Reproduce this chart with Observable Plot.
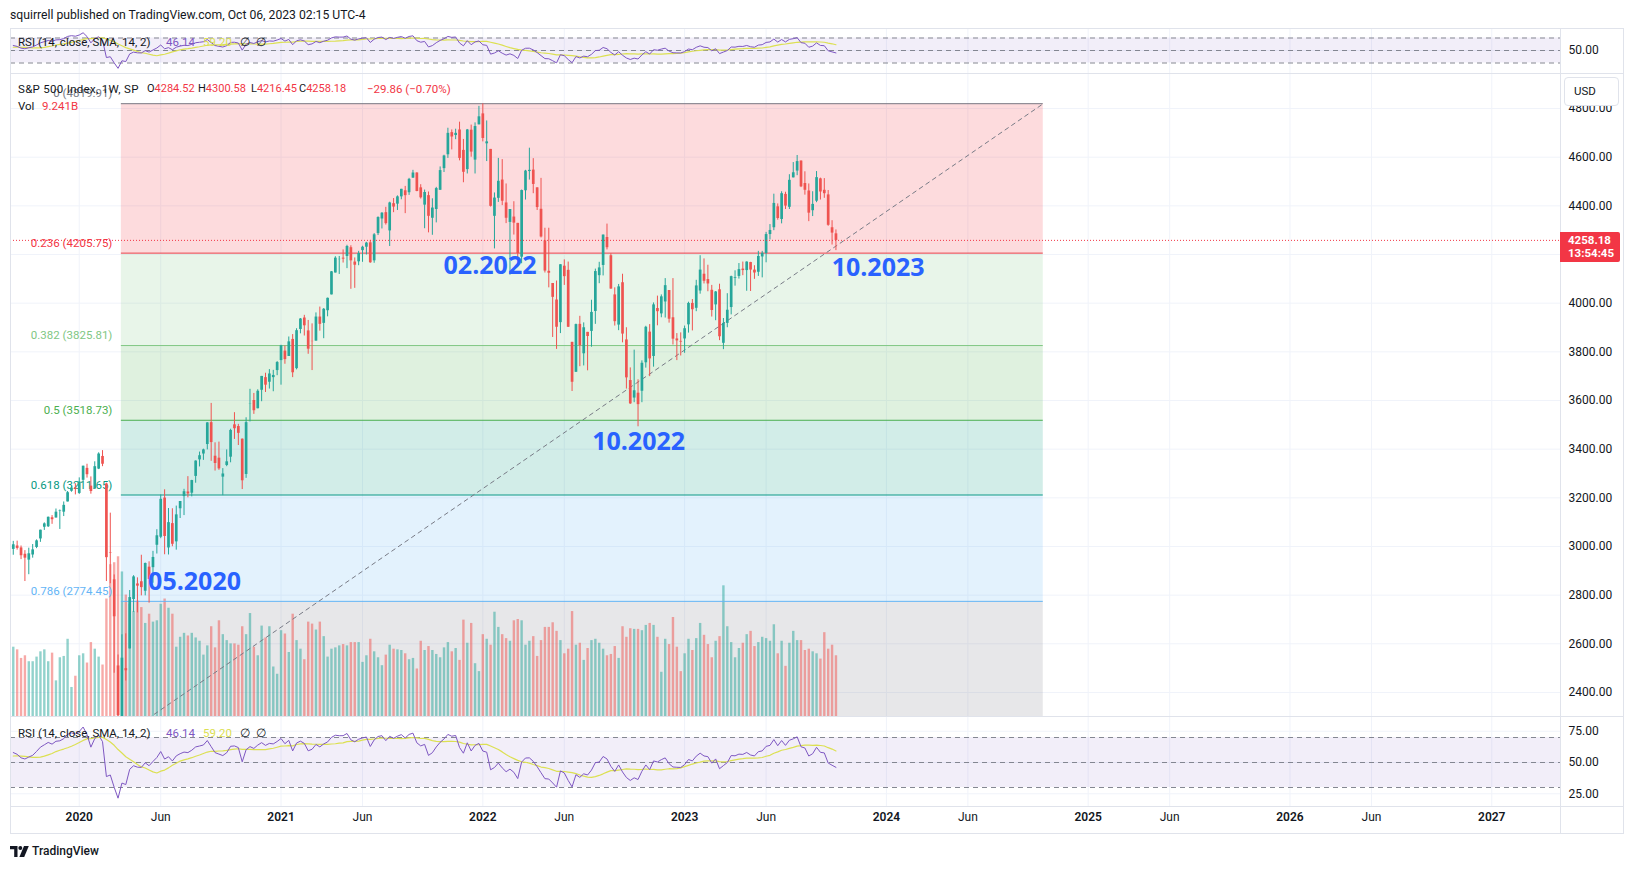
<!DOCTYPE html>
<html><head><meta charset="utf-8"><title>S&P 500 Index 1W</title>
<script src="https://cdn.jsdelivr.net/npm/d3@7"></script>
<script src="https://cdn.jsdelivr.net/npm/@observablehq/plot@0.6"></script>
<style>
html,body{margin:0;padding:0;background:#fff;}
#root{position:relative;width:1634px;height:869px;overflow:hidden;background:#fff;font-family:Roboto,"Open Sans",sans-serif;color:#131722;}
#root svg.plotlayer{position:absolute;left:0;}
.t{position:absolute;white-space:nowrap;font-size:12px;line-height:14px;height:14px;}
.hl{position:absolute;height:1px;background:#e0e3eb;}
.vl{position:absolute;width:1px;background:#e0e3eb;}
</style></head><body><div id="root"></div>
<script>
// ---------- DATA (weekly S&P 500) ----------
const firstWeek = "2019-09-09";
const lastWeekEnd = "2023-10-03";
const warmupCloses = [2886,2767,2768,2659,2723,2781,2736,2633,2760,2633,2600,2417,2486,
  2532,2596,2671,2665,2707,2708,2776,2793,2804,2743,2822,2801,2834,2893,2907,2905,2940,2946,2881,2860,2826,2752,2873,2887,2950,2942,2990,3014,2977,3026,2932,2919,2889,2847,2926,2979];
const opens = [2988,3002,2994,2968,2944,2965,2996,3031,3079,3081,3118,3117,3144,3141,3183,3227,3240,
  3218,3272,3321,3248,3236,3318,3370,
  3257,2974,2863,2509,2291,2498,
  2579,2782,2846,2855,2816,2915,2913,3005,3038,3199,2994,3094,3019,
  3155,3205,3224,3219,3288,3356,3380,3419,3509,
  3371,3363,3285,3333,3367,3500,3493,3441,3296,
  3584,3600,3566,3642,3694,3675,3694,3723,
  3764,3803,3781,3851,3731,3892,3939,3886,3843,3844,3943,3917,3969,
  4034,4124,4179,4185,4192,4228,4169,4170,4216,4230,4248,4174,4286,
  4346,4372,4297,4409,4407,4437,4462,4454,4514,4535,4474,4403,4442,
  4349,4385,4464,4553,4610,4701,4689,4712,4628,4549,4711,4588,4733,
  4778,4655,4632,4357,4431,4506,4412,4332,4354,4328,4189,4462,4541,
  4547,4474,4386,4256,4131,4081,4013,3920,4152,4135,3839,3716,3913,
  3792,3880,3884,3966,4113,4155,4270,4195,4034,3910,4084,3849,3682,
  3610,3630,3638,3755,3881,3781,3978,3956,4005,4052,3940,3853,3843,
  3853,3911,3999,3979,4050,4119,4097,4053,3993,4055,3835,3917,3982,
  4102,4110,4140,4134,4167,4136,4127,4190,4204,4282,4310,4396,4344,
  4447,4394,4515,4543,4584,4492,4461,4380,4419,4511,4464,4445,4310,4285];
const highs = [3021,3022,3002,2983,2993,3008,3027,3067,3097,3121,3127,3154,3150,3183,3226,3248,3258,
  3282,3330,3338,3286,3348,3385,3394,
  3260,3137,2883,2554,2637,2641,
  2819,2880,2871,2964,2932,2937,2980,3069,3212,3233,3156,3155,3166,
  3185,3235,3287,3272,3352,3388,3400,3509,3588,
  3426,3429,3320,3397,3482,3550,3502,3442,3529,
  3646,3629,3644,3699,3712,3727,3724,3760,
  3827,3824,3861,3871,3895,3937,3950,3929,3915,3960,3984,3978,4021,
  4130,4191,4192,4219,4238,4236,4186,4213,4234,4250,4258,4286,4355,
  4372,4394,4415,4430,4441,4468,4480,4513,4546,4536,4487,4465,4457,
  4429,4476,4560,4608,4719,4712,4715,4744,4673,4714,4732,4741,4809,
  4819,4749,4632,4453,4595,4590,4490,4385,4417,4328,4465,4546,4637,
  4594,4474,4513,4308,4308,4081,4091,4158,4178,4169,3839,3914,3946,
  3919,3880,4012,4140,4168,4280,4325,4203,4063,4077,4119,3899,3734,
  3807,3685,3763,3905,3912,4001,4029,4034,4101,4052,4101,3875,3878,
  3906,4004,4015,4094,4195,4182,4156,4073,4048,4078,3937,4039,4111,
  4133,4163,4169,4170,4168,4154,4213,4213,4291,4323,4448,4408,4458,
  4456,4528,4578,4607,4585,4540,4490,4458,4541,4514,4512,4463,4339,4301];
const lows = [2964,2985,2946,2856,2884,2952,2991,3017,3066,3078,3091,3117,3070,3123,3183,3223,3212,
  3214,3264,3281,3215,3236,3316,3328,
  2856,2847,2479,2281,2192,2447,
  2579,2729,2727,2797,2797,2767,2849,2969,3032,2966,2965,2999,2985,
  3115,3127,3200,3204,3260,3327,3354,3397,3350,
  3310,3313,3209,3328,3344,3440,3415,3234,3280,
  3512,3543,3566,3595,3633,3647,3636,3702,
  3663,3749,3781,3694,3726,3874,3865,3790,3723,3844,3885,3854,3944,
  4034,4124,4118,4165,4142,4057,4061,4154,4168,4198,4164,4164,4278,
  4305,4321,4233,4372,4381,4425,4368,4443,4513,4458,4428,4306,4289,
  4279,4330,4464,4537,4595,4630,4672,4585,4495,4531,4600,4531,4733,
  4663,4582,4395,4223,4414,4401,4327,4115,4280,4158,4162,4424,4506,
  4450,4381,4268,4124,4063,3859,3810,3875,4073,3900,3637,3715,3739,
  3742,3722,3819,3913,4080,4112,4219,4057,3906,3887,3837,3647,3584,
  3591,3492,3591,3733,3698,3737,3907,3940,3939,3918,3828,3764,3783,
  3794,3877,3886,3965,4037,4079,4047,3943,3928,3846,3809,3899,3952,
  4070,4099,4113,4049,4048,4098,4110,4104,4166,4260,4298,4341,4326,
  4385,4385,4515,4524,4475,4444,4335,4356,4413,4424,4431,4316,4239,4216];
const closes = [3007,2992,2962,2952,2970,2986,3023,3067,3093,3120,3110,3141,3146,3169,3221,3240,3235,
  3265,3330,3295,3226,3328,3380,3338,
  2954,2972,2711,2305,2541,2489,
  2790,2875,2837,2831,2930,2864,2955,3044,3194,3041,3098,3009,3130,
  3185,3225,3216,3271,3351,3373,3397,3508,3427,
  3341,3319,3298,3348,3477,3484,3465,3270,3509,
  3585,3558,3638,3699,3663,3709,3703,3756,
  3825,3768,3841,3714,3887,3935,3907,3811,3842,3943,3913,3975,4020,
  4129,4185,4180,4181,4233,4174,4156,4204,4230,4247,4166,4281,4352,
  4370,4327,4412,4395,4437,4468,4442,4509,4535,4459,4433,4455,4357,
  4391,4471,4545,4605,4698,4683,4698,4595,4538,4712,4621,4726,4766,
  4677,4663,4398,4432,4501,4419,4349,4385,4329,4204,4463,4543,4546,
  4488,4393,4272,4132,4123,4024,3901,4158,4109,3901,3675,3912,3825,
  3899,3863,3962,4130,4145,4280,4228,4058,3924,4067,3873,3693,3586,
  3640,3583,3753,3901,3771,3993,3965,4026,4072,3934,3852,3845,3840,
  3895,3999,3973,4071,4136,4090,4079,3970,4046,3862,3917,3971,4109,
  4105,4138,4134,4169,4136,4124,4192,4205,4282,4299,4410,4348,4450,
  4399,4505,4536,4582,4478,4464,4370,4406,4516,4457,4450,4320,4288,4258];
const volumesB = [10.5,10.1,8.8,9.2,8.3,8.3,9.0,9.8,10.1,8.3,9.6,5.4,8.9,9.1,11.7,4.4,6.1,9.2,9.5,8.1,11.2,10.2,9.0,7.8,
  17.8,23.0,23.3,24.2,21.9,18.4,17.0,15.9,17.5,16.5,14.1,15.5,14.3,14.5,17.0,17.8,16.4,15.5,10.5,12.0,12.6,12.2,12.6,11.9,11.4,9.3,
  10.7,13.6,10.4,14.5,12.4,11.5,11.0,11.0,10.8,13.6,12.4,15.6,10.5,9.2,13.7,11.9,13.6,7.5,6.4,13.0,12.5,9.7,15.5,11.5,10.2,8.6,
  14.3,14.0,13.1,14.3,12.1,9.0,10.2,10.4,10.7,10.9,10.7,11.2,11.2,11.2,8.2,9.2,11.7,9.8,8.9,7.7,9.3,10.8,10.2,10.1,10.0,9.5,8.6,8.8,7.2,11.4,
  10.0,10.6,10.0,9.4,8.9,10.4,11.2,9.8,10.3,8.5,14.6,11.1,14.1,8.0,6.8,
  12.4,11.7,10.8,15.8,13.5,12.4,11.8,11.4,14.5,14.7,14.5,10.8,11.4,12.1,9.1,11.5,13.5,13.5,14.2,12.9,11.5,9.5,10.2,15.9,
  10.8,11.1,8.5,10.3,11.5,11.7,11.1,10.2,9.2,9.4,10.6,8.8,13.6,12.0,13.3,13.2,13.2,13.0,13.8,14.1,13.8,12.0,6.7,
  11.7,10.9,15.0,10.5,6.8,9.5,11.7,10.0,11.8,14.1,12.3,10.9,8.9,11.4,12.1,19.8,13.6,11.2,8.9,10.3,11.1,12.4,12.9,10.6,11.2,
  12.0,11.8,11.4,13.9,9.5,11.4,7.6,11.1,12.9,11.5,11.5,10.0,10.2,9.8,9.5,8.7,12.7,10.2,10.8,9.2];

const fibRatios = ["0","0.236","0.382","0.5","0.618","0.786","1"];
const fibPrices = [4819.91,4205.75,3825.81,3518.73,3211.65,2774.45,2217.55];
const fibColors = ["#787B86","#F23645","#81C784","#4CAF50","#089981","#64B5F6","#787B86"];
const fibStartDate = "2020-03-22";
const fibEndDate = "2024-10-10";

const noteLabels = ["05.2020","02.2022","10.2022","10.2023"];
const noteDates = ["2020-08-01","2022-01-16","2022-10-11","2023-12-17"];
const notePrices = [2856,4153,3428,4143];

const priceTicks = [2400,2600,2800,3000,3200,3400,3600,3800,4000,4200,4400,4600,4800];
const rsiLevels = [70,50,30];
const rsiTicks = [75,50,25];
const tickDates = ["2020-01-06","2020-06-01","2021-01-04","2021-05-31","2022-01-03","2022-05-30","2023-01-02","2023-05-29","2024-01-01","2024-05-27","2024-12-30","2025-05-26","2025-12-29","2026-05-25","2026-12-28"];
const tickLabels = ["2020","Jun","2021","Jun","2022","Jun","2023","Jun","2024","Jun","2025","Jun","2026","Jun","2027"];

const lastClose = 4258.18;
const legendOHLC = ["4284.52","4300.58","4216.45","4258.18"];
const legendChange = "\u221229.86 (\u22120.70%)";
const legendVol = "9.241B";
const legendRsi = ["46.14","59.20"];

// ---------- BUILD ----------
const root = document.getElementById("root");
const UP = "#26A69A", DOWN = "#EF5350", GRID = "#f0f3fa", PURPLE = "#7E57C2", YELLOW = "#DCE052";
const xDomain = [new Date("2019-09-04"), new Date("2027-05-01")];
const weeks = d3.utcMonday.range(new Date(firstWeek), new Date(lastWeekEnd));
const candles = weeks.map((date, i) => ({date, open: opens[i], high: highs[i], low: lows[i], close: closes[i], vol: volumesB[i]}));
const colorOf = d => d.close >= d.open ? UP : DOWN;

// RSI(14) on close with SMA(14)
const src = warmupCloses.concat(closes);
const N = 14;
const rsiAll = new Array(src.length).fill(NaN);
let au = 0, ad = 0;
for (let i = 1; i < src.length; i++) {
  const ch = src[i] - src[i - 1], u = Math.max(ch, 0), dn = Math.max(-ch, 0);
  if (i <= N) { au += u; ad += dn; if (i === N) { au /= N; ad /= N; rsiAll[i] = ad === 0 ? 100 : 100 - 100 / (1 + au / ad); } }
  else { au = (au * (N - 1) + u) / N; ad = (ad * (N - 1) + dn) / N; rsiAll[i] = ad === 0 ? 100 : 100 - 100 / (1 + au / ad); }
}
const maAll = rsiAll.map((v, i) => {
  if (i < N - 1) return NaN;
  const w = rsiAll.slice(i - N + 1, i + 1);
  return w.some(isNaN) ? NaN : d3.mean(w);
});
const off = warmupCloses.length;
const rsiRows = weeks.map((date, i) => ({date, rsi: rsiAll[off + i], ma: maAll[off + i]}));

const tickRows = tickDates.map((d, i) => ({date: new Date(d), label: tickLabels[i], year: /^\d{4}$/.test(tickLabels[i])}));
const gridDates = tickRows.map(d => d.date);
const fibRows = fibRatios.map((r, i) => ({ratio: r, price: fibPrices[i], color: fibColors[i], x1: new Date(fibStartDate), x2: new Date(fibEndDate)}));
const fibBands = d3.pairs(fibRows).map(([a, b]) => ({x1: a.x1, x2: a.x2, hi: a.price, lo: b.price, color: b.color}));
const diag = [{date: new Date(fibStartDate), price: fibPrices[6]}, {date: new Date(fibEndDate), price: fibPrices[0]}];
const notes = noteLabels.map((t, i) => ({text: t, date: new Date(noteDates[i]), price: notePrices[i]}));
const span = [{x1: xDomain[0], x2: xDomain[1]}];

const style = {background: "transparent", fontFamily: "Roboto, 'Open Sans', sans-serif", fontSize: "12px", color: "#131722", maxWidth: "none", overflow: "visible"};
const base = {width: 1634, marginLeft: 10, marginRight: 74, marginTop: 0, marginBottom: 0,
  x: {type: "utc", domain: xDomain, axis: null}, color: {type: "identity"}, style};
function place(el, top) { el.classList.add("plotlayer"); el.style.top = top + "px"; root.appendChild(el); return el; }

const MAIN_TOP = 73, MAIN_H = 643;
const priceDomain = [2301.2, 4944];
const visibleFib = fibRows.filter(d => d.price >= priceDomain[0] && d.price <= priceDomain[1]);

// Top RSI pane
place(Plot.plot({...base, height: 45,
  y: {domain: [13.2, 85.2], axis: "right", ticks: [50], tickFormat: d => d.toFixed(2), tickSize: 0, tickPadding: 8, label: null},
  marks: [
    Plot.ruleX(gridDates, {stroke: GRID}),
    Plot.ruleY([50], {stroke: GRID}),
    Plot.rect(span, {x1: "x1", x2: "x2", y1: 30, y2: 70, fill: PURPLE, fillOpacity: 0.1}),
    Plot.ruleY(rsiLevels, {stroke: "#787B86", strokeDasharray: "5,4", strokeOpacity: 0.9}),
    Plot.line(rsiRows, {x: "date", y: "ma", stroke: YELLOW, strokeWidth: 1.2, clip: true}),
    Plot.line(rsiRows, {x: "date", y: "rsi", stroke: PURPLE, strokeWidth: 1, clip: true})
  ]}), 28);

// Main pane background: grid + fib fills
place(Plot.plot({...base, height: MAIN_H,
  y: {domain: priceDomain, axis: null},
  marks: [
    Plot.ruleX(gridDates, {stroke: GRID}),
    Plot.ruleY(priceTicks, {stroke: GRID}),
    Plot.rect(fibBands, {x1: "x1", x2: "x2", y1: "lo", y2: "hi", fill: "color", fillOpacity: 0.18, clip: true})
  ]}), MAIN_TOP);

// Volume overlay
place(Plot.plot({...base, height: MAIN_H,
  y: {domain: [0, MAIN_H / 6.6], axis: null},
  marks: [
    Plot.ruleX(candles, {x: "date", y1: 0, y2: "vol", stroke: colorOf, strokeOpacity: 0.5, strokeWidth: 2.4, clip: true})
  ]}), MAIN_TOP);

// Main pane foreground
const fg = place(Plot.plot({...base, height: MAIN_H,
  y: {domain: priceDomain, axis: "right", ticks: priceTicks, tickFormat: d => d.toFixed(2), tickSize: 0, tickPadding: 8, label: null},
  marks: [
    Plot.ruleY(fibRows, {y: "price", x1: "x1", x2: "x2", stroke: "color", strokeWidth: 1, clip: true}),
    Plot.text(visibleFib, {x: "x1", y: "price", text: d => `${d.ratio} (${d.price.toFixed(2)})`, fill: "color", textAnchor: "end", dx: -9, dy: -10, fontSize: 11.5}),
    Plot.line(diag, {x: "date", y: "price", stroke: "#787B86", strokeDasharray: "4,4", strokeWidth: 1, clip: true}),
    Plot.ruleX(candles, {x: "date", y1: "low", y2: "high", stroke: colorOf, strokeWidth: 1, clip: true}),
    Plot.ruleX(candles, {x: "date", y1: "open", y2: "close", stroke: colorOf, strokeWidth: 2.7, clip: true}),
    Plot.ruleY([lastClose], {stroke: "#F23645", strokeDasharray: "1,2", strokeWidth: 1}),
    Plot.text(notes, {x: "date", y: "price", text: "text", fill: "#2962FF", fontSize: 25, fontWeight: 700, fontFamily: "'Open Sans', sans-serif"})
  ]}), MAIN_TOP);

// Bottom RSI pane + time axis
place(Plot.plot({...base, height: 117, marginBottom: 27,
  y: {domain: [14.8, 86.8], axis: "right", ticks: rsiTicks, tickFormat: d => d.toFixed(2), tickSize: 0, tickPadding: 8, label: null},
  marks: [
    Plot.ruleX(gridDates, {stroke: GRID, y1: 14.8, y2: 86.8}),
    Plot.ruleY(rsiTicks, {stroke: GRID}),
    Plot.rect(span, {x1: "x1", x2: "x2", y1: 30, y2: 70, fill: PURPLE, fillOpacity: 0.1}),
    Plot.ruleY(rsiLevels, {stroke: "#787B86", strokeDasharray: "5,4", strokeOpacity: 0.9}),
    Plot.line(rsiRows, {x: "date", y: "ma", stroke: YELLOW, strokeWidth: 1.2, clip: true}),
    Plot.line(rsiRows, {x: "date", y: "rsi", stroke: PURPLE, strokeWidth: 1, clip: true}),
    Plot.text(tickRows.filter(d => d.year), {x: "date", text: "label", frameAnchor: "bottom", dy: 14, fontSize: 12, fontWeight: 600, fill: "#131722"}),
    Plot.text(tickRows.filter(d => !d.year), {x: "date", text: "label", frameAnchor: "bottom", dy: 14, fontSize: 12, fill: "#131722"})
  ]}), 716);

// ---------- frame lines ----------
function hl(y, x1, x2) { const d = document.createElement("div"); d.className = "hl"; d.style.top = y + "px"; d.style.left = x1 + "px"; d.style.width = (x2 - x1) + "px"; root.appendChild(d); }
function vl(x, y1, y2) { const d = document.createElement("div"); d.className = "vl"; d.style.left = x + "px"; d.style.top = y1 + "px"; d.style.height = (y2 - y1) + "px"; root.appendChild(d); }
[28, 73, 716, 806, 833].forEach(y => hl(y, 10, 1624));
[10, 1560, 1623].forEach(x => vl(x, 28, 834));

// ---------- texts ----------
function txt(s, x, cy, st = {}) { const d = document.createElement("div"); d.className = "t"; d.textContent = s; d.style.left = x + "px"; d.style.top = (cy - 7) + "px"; Object.assign(d.style, st); root.appendChild(d); return d; }
txt("squirrell published on TradingView.com, Oct 06, 2023 02:15 UTC-4", 10, 15, {fontSize: "12.2px"});
// RSI legends
[42, 733].forEach(cy => {
  txt("RSI (14, close, SMA, 14, 2)", 18, cy, {fontSize: "11.5px"});
  txt(legendRsi[0], 166, cy, {fontSize: "11.5px", color: PURPLE});
  txt(legendRsi[1], 203, cy, {fontSize: "11.5px", color: YELLOW});
  txt("\u2205", 240, cy, {fontSize: "11.5px"});
  txt("\u2205", 256, cy, {fontSize: "11.5px"});
});
// main legend
const RED = "#F23645";
txt("S&P 500 Index, 1W, SP", 18, 89, {fontSize: "11.5px", letterSpacing: "0.3px"});
const ohlcX = [147, 198, 251, 299], ohlcL = ["O", "H", "L", "C"];
ohlcL.forEach((l, i) => { const d = txt(l, ohlcX[i], 89, {fontSize: "11px"}); const s = document.createElement("span"); s.style.color = RED; s.textContent = legendOHLC[i]; d.appendChild(s); });
txt(legendChange, 367, 89, {fontSize: "11.5px", color: RED});
txt("Vol", 18, 106, {fontSize: "11.5px"});
txt(legendVol, 42, 106, {fontSize: "11.5px", color: RED});

// USD box
const usd = document.createElement("div");
Object.assign(usd.style, {position: "absolute", left: "1564px", top: "77px", width: "55px", height: "29px", background: "#fff", border: "1px solid #e0e3eb", borderRadius: "4px", boxSizing: "border-box", fontSize: "11.5px", lineHeight: "27px", paddingLeft: "9px", color: "#131722"});
usd.textContent = "USD"; root.appendChild(usd);

// last price tag (positioned from the price scale)
const yTag = MAIN_TOP + fg.scale("y").apply(lastClose);
const tag = document.createElement("div");
Object.assign(tag.style, {position: "absolute", left: "1560px", top: (yTag - 8) + "px", width: "60px", height: "30px", background: RED, borderRadius: "0 2px 2px 0", color: "#fff", fontSize: "11.5px", fontWeight: "700", lineHeight: "13px", paddingLeft: "8px", paddingTop: "2px", boxSizing: "border-box"});
tag.innerHTML = lastClose.toFixed(2) + "<br>13:54:45"; root.appendChild(tag);

// TradingView footer
const logo = document.createElementNS("http://www.w3.org/2000/svg", "svg");
logo.setAttribute("width", "19"); logo.setAttribute("height", "11");
Object.assign(logo.style, {position: "absolute", left: "10px", top: "846px"});
logo.innerHTML = '<path d="M0 0h7.5v11H4.2V3.3H0z" fill="#131722"/><circle cx="10.3" cy="2" r="2" fill="#131722"/><path d="M14 0h4.8l-4.6 11H9.4z" fill="#131722"/>';
root.appendChild(logo);
txt("TradingView", 32, 851, {fontSize: "12px", fontWeight: "500"});
</script></body></html>
